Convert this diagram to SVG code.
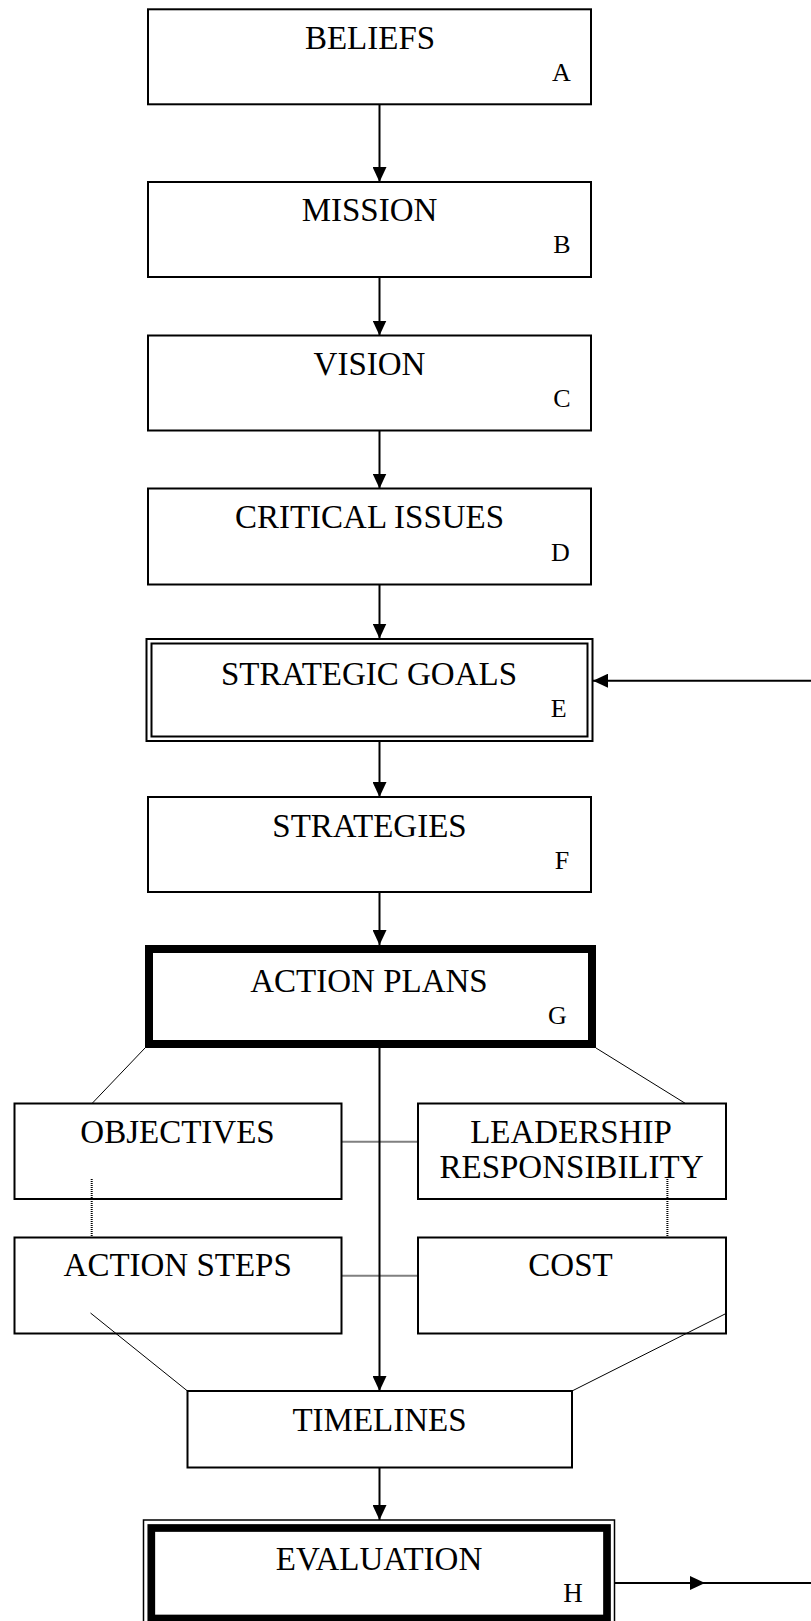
<svg xmlns="http://www.w3.org/2000/svg" width="811" height="1621" viewBox="0 0 811 1621">
<style>
.box{fill:#fff;stroke:#000;stroke-width:2}
.thin{fill:none;stroke:#000;stroke-width:1.5}
.thick{fill:#fff;stroke:#000;stroke-width:8}
.t{font-family:"Liberation Serif","Times New Roman",serif;font-size:33px;text-anchor:middle;fill:#000}
.l{font-family:"Liberation Serif","Times New Roman",serif;font-size:26px;text-anchor:middle;fill:#000}
.arr{fill:none;stroke:#000;stroke-width:2}
.diag{fill:none;stroke:#000;stroke-width:1}
.dot{fill:none;stroke:#000;stroke-width:2;stroke-dasharray:1 1}
</style>
<defs>
<marker id="ah" markerUnits="userSpaceOnUse" markerWidth="15" markerHeight="14" refX="15" refY="7" orient="auto">
<path d="M0,0 L15,7 L0,14 z" fill="#000"/>
</marker>
<marker id="ahm" markerUnits="userSpaceOnUse" markerWidth="15" markerHeight="14" refX="15" refY="7" orient="auto">
<path d="M0,0 L15,7 L0,14 z" fill="#000"/>
</marker>
</defs>
<rect width="811" height="1621" fill="#fff"/>
<g id="beliefs">
<rect class="box" x="148" y="9.3" width="443" height="95"/>
<text class="t" x="370" y="48.5">BELIEFS</text>
<text class="l" x="561.5" y="80.5">A</text>
</g>
<g id="mission">
<rect class="box" x="148" y="182" width="443" height="95"/>
<text class="t" x="369.5" y="221">MISSION</text>
<text class="l" x="562" y="253">B</text>
</g>
<g id="vision">
<rect class="box" x="148" y="335.5" width="443" height="95"/>
<text class="t" x="369.5" y="374.5">VISION</text>
<text class="l" x="562" y="406.5">C</text>
</g>
<g id="critical-issues">
<rect class="box" x="148" y="488.5" width="443" height="96"/>
<text class="t" x="369.5" y="528.3">CRITICAL ISSUES</text>
<text class="l" x="560.5" y="560.5">D</text>
</g>
<g id="strategic-goals">
<rect class="box" x="146.5" y="639" width="446" height="102"/>
<rect class="box" x="151.5" y="643.5" width="436" height="93"/>
<text class="t" x="369" y="685">STRATEGIC GOALS</text>
<text class="l" x="558.7" y="717.3">E</text>
</g>
<g id="strategies">
<rect class="box" x="148" y="797" width="443" height="95"/>
<text class="t" x="369.5" y="836.5">STRATEGIES</text>
<text class="l" x="562" y="868.5">F</text>
</g>
<g id="action-plans">
<rect class="thick" x="149" y="949" width="443" height="95"/>
<text class="t" x="369" y="992">ACTION PLANS</text>
<text class="l" x="557.5" y="1023.5">G</text>
</g>
<g id="objectives">
<rect class="box" x="14.5" y="1103.5" width="327" height="95.5"/>
<text class="t" x="177.5" y="1142.7">OBJECTIVES</text>
</g>
<g id="leadership">
<rect class="box" x="418" y="1103.5" width="308" height="95.5"/>
<text class="t" x="571" y="1142.7">LEADERSHIP</text>
<text class="t" x="571.5" y="1178.3">RESPONSIBILITY</text>
</g>
<g id="action-steps">
<rect class="box" x="14.5" y="1237.5" width="327" height="96"/>
<text class="t" x="177.7" y="1276">ACTION STEPS</text>
</g>
<g id="cost">
<rect class="box" x="418" y="1237.5" width="308" height="96"/>
<text class="t" x="570.5" y="1276">COST</text>
</g>
<g id="timelines">
<rect class="box" x="187.5" y="1391" width="384.5" height="76.5"/>
<text class="t" x="379.5" y="1430.7">TIMELINES</text>
</g>
<g id="evaluation">
<rect class="thin" x="143.5" y="1520" width="471" height="110"/>
<rect fill="#fff" stroke="#000" stroke-width="7.7" x="151.3" y="1528" width="455.7" height="90.5"/>
<text class="t" x="379" y="1570">EVALUATION</text>
<text class="l" x="573" y="1602" style="font-size:27px">H</text>
</g>
<g id="connectors">
<line class="arr" x1="379.5" y1="104.5" x2="379.5" y2="182" marker-end="url(#ah)"/>
<line class="arr" x1="379.5" y1="277.5" x2="379.5" y2="335.5" marker-end="url(#ah)"/>
<line class="arr" x1="379.5" y1="431" x2="379.5" y2="488.5" marker-end="url(#ah)"/>
<line class="arr" x1="379.5" y1="585" x2="379.5" y2="638.5" marker-end="url(#ah)"/>
<line class="arr" x1="379.5" y1="742" x2="379.5" y2="797" marker-end="url(#ah)"/>
<line class="arr" x1="379.5" y1="892.5" x2="379.5" y2="945" marker-end="url(#ah)"/>
<line class="arr" x1="379.5" y1="1048" x2="379.5" y2="1391" marker-end="url(#ah)"/>
<line class="arr" x1="379.5" y1="1468" x2="379.5" y2="1520" marker-end="url(#ah)"/>
<line class="arr" x1="811" y1="680.7" x2="593" y2="680.7" marker-end="url(#ah)"/>
<path class="arr" d="M614.5,1583 L705,1583 L811,1583" marker-mid="url(#ahm)"/>
<line class="diag" x1="145" y1="1048" x2="92" y2="1103.5"/>
<line class="diag" x1="596" y1="1048" x2="685.5" y2="1103.5"/>
<line class="diag" x1="90.5" y1="1313" x2="187.5" y2="1391"/>
<line class="diag" x1="725" y1="1314" x2="572" y2="1391"/>
<line class="dot" x1="342.5" y1="1141.7" x2="417" y2="1141.7"/>
<line class="dot" x1="342.5" y1="1275.7" x2="417" y2="1275.7"/>
<line class="dot" x1="91.7" y1="1179" x2="91.7" y2="1236.5"/>
<line class="dot" x1="667.4" y1="1179" x2="667.4" y2="1236.5"/>
</g>
</svg>
